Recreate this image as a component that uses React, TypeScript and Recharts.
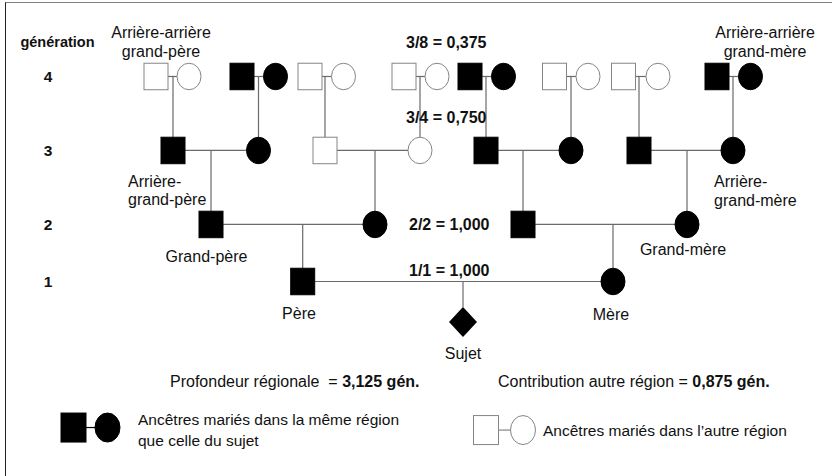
import React from 'react';
import { ScatterChart, Scatter, XAxis, YAxis, ReferenceLine } from 'recharts';

const W = 832;
const H = 476;
const FONT = '"Liberation Sans", Arial, Helvetica, sans-serif';

// Vertical scale is expressed in generation units (4 = top row).
const generationRows = [4, 3, 2, 1.229];
const generationTicks = ['4', '3', '2', '1'];
const subjectRow = 0.681;

// Couples per generation: horizontal position of husband / wife and region flag
const gen4Husbands = [156, 242, 310, 404, 470, 554.5, 623.5, 717];
const gen4Wives = [189, 275.5, 343.5, 437, 503.5, 588, 658, 750.5];
const gen4SameRegion = [false, true, false, false, true, false, false, true];

const gen3Husbands = [173, 325, 486, 639];
const gen3Wives = [258.5, 420, 571, 733];
const gen3SameRegion = [true, false, true, true];

const gen2Husbands = [211, 523];
const gen2Wives = [375, 687];
const gen2SameRegion = [true, true];

const gen1Husbands = [302.7];
const gen1Wives = [613];
const gen1SameRegion = [true];

const subjectX = [463];

// Text labels (x position, row in generation units)
const nameLabels = [
  { x: 161, y: 4.601, text: 'Arrière-arrière', anchor: 'middle' },
  { x: 161, y: 4.331, text: 'grand-père', anchor: 'middle' },
  { x: 765, y: 4.601, text: 'Arrière-arrière', anchor: 'middle' },
  { x: 765, y: 4.331, text: 'grand-mère', anchor: 'middle' },
  { x: 128, y: 2.587, text: 'Arrière-', anchor: 'start' },
  { x: 128, y: 2.344, text: 'grand-père', anchor: 'start' },
  { x: 714, y: 2.587, text: 'Arrière-', anchor: 'start' },
  { x: 714, y: 2.33, text: 'grand-mère', anchor: 'start' },
  { x: 206.5, y: 1.573, text: 'Grand-père', anchor: 'middle' },
  { x: 683, y: 1.655, text: 'Grand-mère', anchor: 'middle' },
  { x: 299, y: 0.803, text: 'Père', anchor: 'middle' },
  { x: 611, y: 0.789, text: 'Mère', anchor: 'middle' },
  { x: 463, y: 0.249, text: 'Sujet', anchor: 'middle' },
];

const fractionLabels = [
  { x: 406, y: 4.466, text: '3/8 = 0,375' },
  { x: 406, y: 3.439, text: '3/4 = 0,750' },
  { x: 409, y: 1.993, text: '2/2 = 1,000' },
  { x: 409, y: 1.384, text: '1/1 = 1,000' },
];

const axisTitle = [{ x: 57.5, y: 4.466, text: 'génération' }];
const axisTickX = 48;

const summaryLabels = [
  { x: 170, y: -0.116, lead: 'Profondeur régionale  = ', value: '3,125 gén.' },
  { x: 498, y: -0.116, lead: 'Contribution autre région = ', value: '0,875 gén.' },
];

const legendTexts = [
  { x: 138, y: -0.63, text: 'Ancêtres mariés dans la même région', anchor: 'start' },
  { x: 138, y: -0.914, text: 'que celle du sujet', anchor: 'start' },
  { x: 543, y: -0.779, text: 'Ancêtres mariés dans l\u2019autre région', anchor: 'start' },
];

const legendHusbands = [73.5, 486];
const legendWives = [107.5, 523];
const legendRows = [-0.745, -0.779];
const legendSameRegion = [true, false];

// ---------- derived structures ----------
type Person = { x: number; y: number; kind: 'M' | 'F' | 'S'; filled: boolean };

const generations = [
  { h: gen4Husbands, w: gen4Wives, s: gen4SameRegion },
  { h: gen3Husbands, w: gen3Wives, s: gen3SameRegion },
  { h: gen2Husbands, w: gen2Wives, s: gen2SameRegion },
  { h: gen1Husbands, w: gen1Wives, s: gen1SameRegion },
];

const SYM_W = 24;
const SYM_H = 26.5;
const UNIT_PX = 73.98;
const halfW = SYM_W / 2;
const halfHUnits = SYM_H / 2 / UNIT_PX;
const diamondHalfUnits = 15 / UNIT_PX;

const persons: Person[] = [];
const segments: { x1: number; y1: number; x2: number; y2: number }[] = [];

generations.forEach((g, gi) => {
  const row = generationRows[gi];
  g.h.forEach((hx, i) => {
    const wx = g.w[i];
    persons.push({ x: hx, y: row, kind: 'M', filled: g.s[i] });
    persons.push({ x: wx, y: row, kind: 'F', filled: g.s[i] });
    segments.push({ x1: hx + halfW, y1: row, x2: wx - halfW, y2: row });
    // descent line to child in next generation
    if (gi < generations.length - 1) {
      const next = generations[gi + 1];
      const k = Math.floor(i / 2);
      const childX = i % 2 === 0 ? next.h[k] : next.w[k];
      const childRow = generationRows[gi + 1];
      segments.push({ x1: childX, y1: row, x2: childX, y2: childRow + halfHUnits });
    } else {
      segments.push({ x1: subjectX[0], y1: row, x2: subjectX[0], y2: subjectRow + diamondHalfUnits });
    }
  });
});
persons.push({ x: subjectX[0], y: subjectRow, kind: 'S', filled: true });

const legendPersons: Person[] = [];
const legendSegs: { x1: number; y1: number; x2: number; y2: number }[] = [];
legendHusbands.forEach((hx, i) => {
  legendPersons.push({ x: hx, y: legendRows[i], kind: 'M', filled: legendSameRegion[i] });
  legendPersons.push({ x: legendWives[i], y: legendRows[i], kind: 'F', filled: legendSameRegion[i] });
  legendSegs.push({ x1: hx + 12.5, y1: legendRows[i], x2: legendWives[i] - 12.5, y2: legendRows[i] });
});

const tickLabels = generationRows.map((r, i) => ({ x: axisTickX, y: r, text: generationTicks[i] }));

// ---------- shapes ----------
const LINE = '#6a6a6a';
const OPEN = '#858585';

const makeSymbol = (w: number, h: number) => (props: any) => {
  const { cx, cy, payload } = props;
  if (cx == null || cy == null) return <g />;
  const p = payload as Person;
  const fill = p.filled ? '#000' : '#fff';
  const stroke = p.filled ? '#000' : OPEN;
  if (p.kind === 'M') {
    return <rect x={cx - w / 2} y={cy - h / 2} width={w} height={h} fill={fill} stroke={stroke} strokeWidth={1} />;
  }
  if (p.kind === 'F') {
    return <ellipse cx={cx} cy={cy} rx={w / 2} ry={h / 2} fill={fill} stroke={stroke} strokeWidth={1} />;
  }
  const dx = 14;
  const dy = 15;
  return (
    <polygon
      points={`${cx},${cy - dy} ${cx + dx},${cy} ${cx},${cy + dy} ${cx - dx},${cy}`}
      fill="#000"
    />
  );
};

const makeText = (size: number, weight: string, defaultAnchor: string) => (props: any) => {
  const { cx, cy, payload } = props;
  if (cx == null || cy == null) return <g />;
  return (
    <text
      x={cx}
      y={cy}
      textAnchor={payload.anchor || defaultAnchor}
      dominantBaseline="central"
      fontFamily={FONT}
      fontSize={size}
      fontWeight={weight}
      fill="#111"
    >
      {payload.text}
    </text>
  );
};

const SummaryShape = (props: any) => {
  const { cx, cy, payload } = props;
  if (cx == null || cy == null) return <g />;
  return (
    <text x={cx} y={cy} dominantBaseline="central" fontFamily={FONT} fontSize={16} fill="#111" style={{ whiteSpace: 'pre' }}>
      <tspan>{payload.lead}</tspan>
      <tspan fontWeight="bold">{payload.value}</tspan>
    </text>
  );
};

export default function App() {
  return (
    <div style={{ position: 'absolute', left: 0, top: 0, width: W, height: H, overflow: 'hidden', background: '#fff' }}>
      <div
        style={{
          position: 'absolute',
          left: 5,
          top: 2,
          width: W + 50,
          height: H + 50,
          borderLeft: '1.5px solid #222',
          borderTop: '1.5px solid #808080',
        }}
      />
      <div style={{ position: 'absolute', left: 0, top: 0 }}>
        <ScatterChart width={W} height={H} margin={{ top: 2.5, right: 0, bottom: 0, left: 0 }}>
          <XAxis type="number" dataKey="x" domain={[0, W]} hide allowDataOverflow />
          <YAxis type="number" dataKey="y" domain={[-1.4, 5]} hide width={0} allowDataOverflow />
          {segments.map((s, i) => (
            <ReferenceLine
              key={`seg${i}`}
              segment={[{ x: s.x1, y: s.y1 }, { x: s.x2, y: s.y2 }]}
              stroke={LINE}
              strokeWidth={1.2}
              ifOverflow="visible"
            />
          ))}
          {legendSegs.map((s, i) => (
            <ReferenceLine
              key={`lseg${i}`}
              segment={[{ x: s.x1, y: s.y1 }, { x: s.x2, y: s.y2 }]}
              stroke={legendSameRegion[i] ? '#000' : OPEN}
              strokeWidth={1.2}
              ifOverflow="visible"
            />
          ))}
          <Scatter data={persons} shape={makeSymbol(SYM_W, SYM_H)} isAnimationActive={false} />
          <Scatter data={legendPersons} shape={makeSymbol(25, 29)} isAnimationActive={false} />
          <Scatter data={nameLabels} shape={makeText(16, 'normal', 'middle')} isAnimationActive={false} />
          <Scatter data={fractionLabels} shape={makeText(16, 'bold', 'start')} isAnimationActive={false} />
          <Scatter data={axisTitle} shape={makeText(14.5, 'bold', 'middle')} isAnimationActive={false} />
          <Scatter data={tickLabels} shape={makeText(15.5, 'bold', 'middle')} isAnimationActive={false} />
          <Scatter data={summaryLabels} shape={SummaryShape} isAnimationActive={false} />
          <Scatter data={legendTexts} shape={makeText(15.5, 'normal', 'start')} isAnimationActive={false} />
        </ScatterChart>
      </div>
    </div>
  );
}
